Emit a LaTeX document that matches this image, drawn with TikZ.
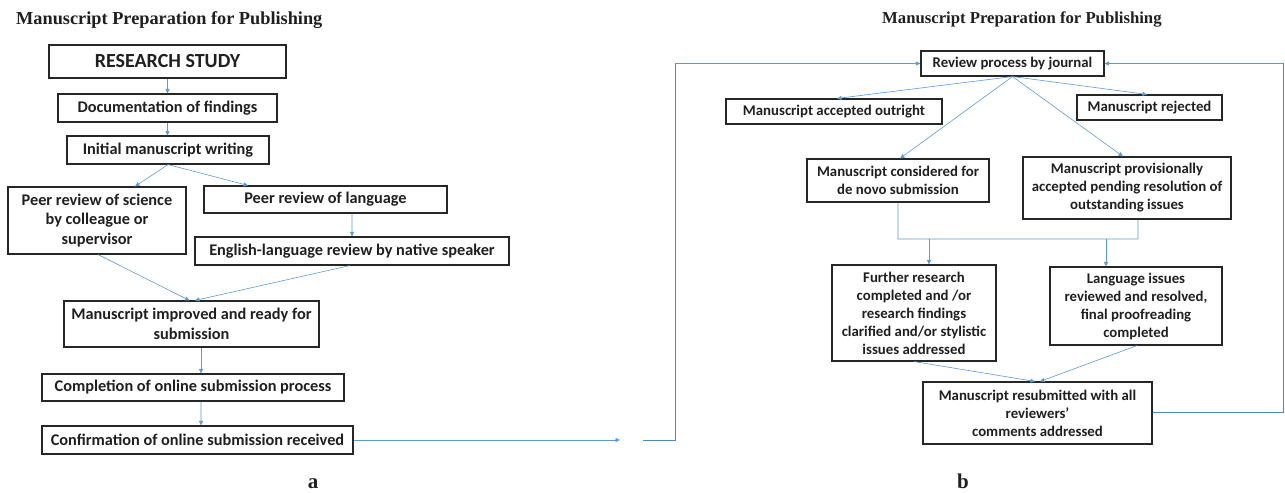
\documentclass[tikz,border=0pt]{standalone}
\usepackage{fontspec}
\setmainfont{Liberation Serif}
\newfontfamily\boxfont{Carlito}
\usetikzlibrary{arrows.meta,calc}
\definecolor{lblue}{HTML}{5B9BD5}
\definecolor{dblue}{HTML}{4F87C5}
\definecolor{boxline}{HTML}{262626}
\tikzset{
 box/.style={draw=boxline, line width=1.1bp, align=center, inner sep=1bp, text=black!88,
   font=\boxfont\bfseries\fontsize{16.3bp}{18bp}\selectfont},
 rbox/.style={box, font=\boxfont\bfseries\fontsize{14.8bp}{18bp}\selectfont},
 arr/.style={draw=lblue, line width=0.6bp, -{Triangle[length=4.5bp,width=4bp]}},
 thinline/.style={draw=lblue, line width=0.7bp},
 loopline/.style={draw=dblue, line width=1bp},
 ttl/.style={font=\bfseries\fontsize{18.3bp}{21bp}\selectfont, text=black!88},
 lbl/.style={font=\bfseries\fontsize{21bp}{22bp}\selectfont, text=black!88, inner sep=0, text depth=0pt, anchor=base},
}
\begin{document}
\begin{tikzpicture}[x=1bp,y=-1bp]
\useasboundingbox (0,0) rectangle (1285,493);
% titles
\node[ttl, anchor=base west, inner sep=0] (t1) at (16,25) {Manuscript Preparation for Publishing};
\node[ttl, anchor=base west, inner sep=0, font=\bfseries\fontsize{16.7bp}{19bp}\selectfont] (t2) at (882,24) {Manuscript Preparation for Publishing};
% left diagram
\node[box, minimum width=237bp, minimum height=33bp, font=\boxfont\bfseries\fontsize{20bp}{23bp}\selectfont] (rs) at (167.5,61.5) {RESEARCH STUDY};
\node[box, minimum width=219bp, minimum height=28bp] (doc) at (167.5,108) {Documentation of findings};
\node[box, minimum width=202bp, minimum height=28bp] (init) at (168,150) {Initial manuscript writing};
\node[box, minimum width=178bp, minimum height=67bp, font=\boxfont\bfseries\fontsize{16.3bp}{19.5bp}\selectfont] (psci) at (97,220.5) {Peer review of science\\by colleague or\\supervisor};
\node[box, minimum width=243bp, minimum height=27bp] (plang) at (325.5,199.5) {Peer review of language};
\node[box, minimum width=314bp, minimum height=28bp] (eng) at (352,251) {English-language review by native speaker};
\node[box, minimum width=255bp, minimum height=46bp, font=\boxfont\bfseries\fontsize{16.3bp}{19.5bp}\selectfont] (impr) at (191.5,324) {Manuscript improved and ready for\\submission};
\node[box, minimum width=302bp, minimum height=27bp] (comp) at (193,387.5) {Completion of online submission process};
\node[box, minimum width=311bp, minimum height=28bp] (conf) at (197.5,440) {Confirmation of online submission received};
\node[lbl] (la) at (313,488) {a};
% left connectors
\draw[arr] (rs.south) -- (doc.north);
\draw[arr] (doc.south) -- (doc.south |- init.north);
\draw[arr] (init.south) -- ([xshift=38bp]psci.north);
\draw[arr] (init.south) -- ([xshift=-77.5bp]plang.north);
\draw[arr] ([xshift=26.5bp]plang.south) -- (eng.north);
\draw[arr] ([xshift=1bp]psci.south) -- ([xshift=-2bp]impr.north);
\draw[arr] ([xshift=-2bp]eng.south) -- ([xshift=3.5bp]impr.north);
\draw[arr] ([xshift=9.5bp]impr.south) -- ([xshift=8bp]comp.north);
\draw[arr] ([xshift=8bp]comp.south) -- ([xshift=3.5bp]conf.north);
\coordinate (gapend) at (620,440);
\draw[arr] (conf.east) -- (gapend);
% right diagram
\node[rbox, minimum width=183bp, minimum height=25bp] (rev) at (1012.5,63.5) {Review process by journal};
\node[rbox, minimum width=216bp, minimum height=25bp] (acc) at (834,111.5) {Manuscript accepted outright};
\node[rbox, minimum width=145bp, minimum height=25bp] (rej) at (1149.5,107.5) {Manuscript rejected};
\node[rbox, minimum width=182bp, minimum height=43bp] (cons) at (898,180.5) {Manuscript considered for\\de novo submission};
\node[rbox, minimum width=208bp, minimum height=62bp] (prov) at (1127,188) {Manuscript provisionally\\accepted pending resolution of\\outstanding issues};
\node[rbox, minimum width=164bp, minimum height=96bp] (fur) at (914,313) {Further research\\completed and /or\\research findings\\clarified and/or stylistic\\issues addressed};
\node[rbox, minimum width=172bp, minimum height=78bp] (lang) at (1136,306) {Language issues\\reviewed and resolved,\\final proofreading\\completed};
\node[rbox, minimum width=229bp, minimum height=62bp] (resub) at (1037.5,413) {Manuscript resubmitted with all\\reviewers’\\comments addressed};
\node[lbl] (lb) at (963,488) {b};
% right connectors
\draw[arr] (rev.south) -- ([xshift=3bp]acc.north);
\draw[arr] (rev.south) -- ([xshift=-2.5bp]rej.north);
\draw[arr] (rev.south) -- ([xshift=2bp]cons.north);
\draw[arr] (rev.south) -- ([xshift=-4bp]prov.north);
\coordinate (bl) at (898,239);
\coordinate (br) at (1138,239);
\draw[thinline] (cons.south) -- (bl) -- (br) -- ([xshift=11bp]prov.south);
\coordinate (f1) at ([xshift=15bp]fur.north);
\coordinate (l1) at ([xshift=-30bp]lang.north);
\draw[arr] (f1 |- bl) -- (f1);
\draw[arr] (l1 |- bl) -- (l1);
\draw[arr] (fur.south) -- ([xshift=-2.5bp]resub.north);
\draw[arr] ([xshift=1bp]lang.south) -- ([xshift=2.5bp]resub.north);
% loop lines
\coordinate (ls) at (643,440);
\coordinate (lc1) at (675,440);
\coordinate (lc2) at (675,63.5);
\draw[loopline] (ls) -- (lc1) -- (lc2);
\draw[arr] (lc2) -- (rev.west);
\coordinate (rc1) at (1283,413);
\coordinate (rc2) at (1283,63.5);
\draw[loopline] (resub.east) -- (rc1) -- (rc2);
\draw[arr] (rc2) -- (rev.east);
\end{tikzpicture}
\end{document}
